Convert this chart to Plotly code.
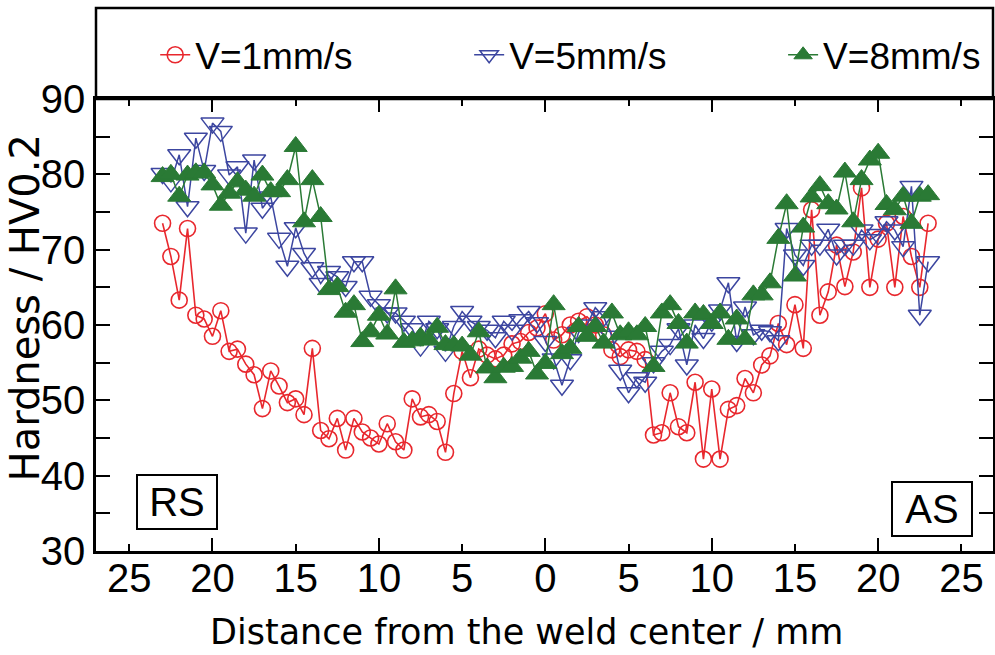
import plotly.graph_objects as go

distance = [-23.0, -22.5, -22.0, -21.5, -21.0, -20.5, -20.0, -19.5, -19.0, -18.5,
            -18.0, -17.5, -17.0, -16.5, -16.0, -15.5, -15.0, -14.5, -14.0, -13.5,
            -13.0, -12.5, -12.0, -11.5, -11.0, -10.5, -10.0, -9.5, -9.0, -8.5,
            -8.0, -7.5, -7.0, -6.5, -6.0, -5.5, -5.0, -4.5, -4.0, -3.5,
            -3.0, -2.5, -2.0, -1.5, -1.0, -0.5, 0.0, 0.5, 1.0, 1.5,
            2.0, 2.5, 3.0, 3.5, 4.0, 4.5, 5.0, 5.5, 6.0, 6.5,
            7.0, 7.5, 8.0, 8.5, 9.0, 9.5, 10.0, 10.5, 11.0, 11.5,
            12.0, 12.5, 13.0, 13.5, 14.0, 14.5, 15.0, 15.5, 16.0, 16.5,
            17.0, 17.5, 18.0, 18.5, 19.0, 19.5, 20.0, 20.5, 21.0, 21.5,
            22.0, 22.5, 23.0]

v1_hardness = [73.5, 69.1, 63.3, 72.8, 61.3, 60.8, 58.5, 61.9, 56.5, 56.8,
               54.8, 53.4, 48.9, 53.9, 51.9, 49.7, 50.2, 48.1, 56.9, 46.0,
               44.9, 47.6, 43.4, 47.6, 45.8, 45.0, 44.2, 46.9, 44.5, 43.4,
               50.2, 47.8, 48.1, 47.2, 43.1, 50.9, 56.5, 53.0, 56.8, 56.0,
               55.5, 56.0, 57.5, 57.8, 59.0, 59.6, 61.5, 58.0, 58.7, 60.0,
               60.5, 61.1, 60.0, 58.7, 56.7, 55.8, 56.7, 56.5, 55.4, 45.4,
               45.7, 51.0, 46.5, 45.7, 52.4, 42.2, 51.5, 42.2, 48.8, 49.3,
               52.9, 51.0, 54.7, 55.9, 60.2, 57.4, 62.7, 56.9, 75.3, 61.3,
               64.4, 70.6, 65.1, 69.7, 78.2, 65.0, 71.4, 73.5, 65.0, 74.4,
               69.1, 65.0, 73.5]

v5_hardness = [80.1, 79.0, 82.6, 75.7, 84.8, 80.5, 86.8, 85.7, 79.9, 81.0,
               72.2, 81.9, 75.5, 77.0, 71.5, 67.8, 72.9, 69.5, 67.6, 65.5,
               67.1, 66.4, 65.1, 68.4, 68.4, 63.8, 62.7, 61.6, 61.6, 60.5,
               59.5, 57.2, 60.5, 59.5, 56.5, 59.8, 61.8, 60.5, 59.8, 59.3,
               58.3, 60.5, 59.3, 60.7, 61.8, 60.3, 57.8, 55.5, 52.0, 55.4,
               59.0, 60.0, 62.3, 61.1, 58.5, 54.0, 51.0, 53.0, 52.4, 55.0,
               56.5, 57.4, 59.5, 54.7, 60.0, 58.2, 60.5, 62.0, 65.6, 57.8,
               62.4, 58.7, 59.3, 59.1, 57.9, 72.8, 69.3, 67.9, 70.6, 70.6,
               72.7, 69.3, 70.6, 70.6, 72.6, 71.3, 72.0, 73.7, 72.6, 70.4,
               78.4, 61.3, 68.4]

v8_hardness = [79.7, 80.0, 77.1, 79.9, 80.2, 80.2, 78.6, 75.9, 77.5, 79.0,
               77.9, 77.1, 79.9, 77.7, 77.7, 79.3, 83.7, 73.7, 79.3, 74.4,
               64.7, 65.1, 61.7, 62.7, 57.8, 59.1, 61.3, 58.8, 64.8, 57.7,
               57.9, 58.4, 58.0, 59.7, 57.4, 57.3, 57.2, 56.0, 59.1, 54.3,
               53.0, 54.4, 54.5, 55.6, 56.5, 53.5, 54.9, 62.7, 56.2, 56.9,
               59.8, 58.5, 59.8, 57.6, 61.6, 58.7, 59.1, 58.7, 59.8, 54.5,
               61.6, 62.7, 60.2, 57.6, 61.6, 61.4, 60.2, 61.6, 58.1, 60.8,
               58.1, 64.0, 64.0, 65.6, 71.5, 76.1, 66.5, 73.0, 77.0, 78.5,
               76.1, 75.4, 80.3, 73.7, 79.3, 81.9, 82.8, 76.0, 75.3, 77.1,
               73.5, 77.1, 77.3]

series_names = ["V=1mm/s", "V=5mm/s", "V=8mm/s"]
x_tick_values = [-25, -20, -15, -10, -5, 0, 5, 10, 15, 20, 25]
x_tick_labels = ["25", "20", "15", "10", "5", "0", "5", "10", "15", "20", "25"]
x_major_ticks = [-20, -10, 0, 10, 20]
y_tick_values = [30, 35, 40, 45, 50, 55, 60, 65, 70, 75, 80, 85, 90]
y_tick_labels = ["30", "", "40", "", "50", "", "60", "", "70", "", "80", "", "90"]

RED = "#e8272d"
BLUE = "#3c46a0"
GREEN = "#2a7a35"
FONT = "Liberation Sans, Arial, sans-serif"
TITLE_FONT = "DejaVu Sans, sans-serif"

fig = go.Figure()
fig.add_trace(go.Scatter(
    x=distance, y=v1_hardness, name=series_names[0], mode="lines+markers", legend="legend",
    line=dict(color=RED, width=1.6),
    marker=dict(symbol="circle-open", size=16, color=RED, line=dict(width=1.6, color=RED)),
))
fig.add_trace(go.Scatter(
    x=distance, y=v5_hardness, name=series_names[1], mode="lines+markers", legend="legend2",
    line=dict(color=BLUE, width=1.5),
    marker=dict(symbol="triangle-down-open", size=20, color=BLUE, line=dict(width=1.5, color=BLUE)),
))
fig.add_trace(go.Scatter(
    x=distance, y=v8_hardness, name=series_names[2], mode="lines+markers", legend="legend3",
    line=dict(color=GREEN, width=1.5),
    marker=dict(symbol="triangle-up", size=20, color=GREEN, line=dict(width=1, color=GREEN)),
))
# empty trace carrying the long major ticks axis
fig.add_trace(go.Scatter(x=[], y=[], xaxis="x2", yaxis="y", showlegend=False, hoverinfo="skip"))

ytop = 452 / 543


def legend_at(xpos):
    return dict(
        orientation="h", x=xpos, y=0.913, xanchor="left", yanchor="middle",
        font=dict(family=FONT, size=37, color="black"),
        bgcolor="rgba(0,0,0,0)", borderwidth=0,
    )


fig.update_layout(
    width=995, height=655,
    margin=dict(l=96, r=2, t=8, b=104, autoexpand=False),
    paper_bgcolor="white", plot_bgcolor="white",
    font=dict(family=FONT, color="black"),
    showlegend=True,
    legend=legend_at(0.066),
    legend2=legend_at(0.416),
    legend3=legend_at(0.766),
    xaxis=dict(
        range=[-27, 26.9], tickmode="array", tickvals=x_tick_values, ticktext=x_tick_labels,
        ticks="inside", ticklen=7, tickwidth=2, tickcolor="black",
        showline=True, linewidth=2.5, linecolor="black", mirror="ticks",
        showgrid=False, zeroline=False, automargin=False, ticklabelstandoff=-10,
        tickfont=dict(family=FONT, size=40, color="black"),
    ),
    xaxis2=dict(
        range=[-27, 26.9], overlaying="x", anchor="y", side="bottom",
        tickmode="array", tickvals=x_major_ticks, showticklabels=False,
        ticks="inside", ticklen=13, tickwidth=2, tickcolor="black",
        showline=True, linewidth=2.5, linecolor="black", mirror="ticks",
        showgrid=False, zeroline=False, automargin=False,
    ),
    yaxis=dict(
        range=[30, 90], domain=[0, ytop], tickmode="array", tickvals=y_tick_values, ticktext=y_tick_labels,
        ticks="inside", ticklen=14, tickwidth=2, tickcolor="black",
        showline=True, linewidth=2.5, linecolor="black", mirror="ticks",
        showgrid=False, zeroline=False, automargin=False,
        tickfont=dict(family=FONT, size=40, color="black"),
    ),
    shapes=[dict(type="rect", xref="paper", yref="paper", x0=0, x1=1, y0=ytop, y1=1,
                 line=dict(color="black", width=2.5), fillcolor="rgba(0,0,0,0)", layer="above")],
    annotations=[
        dict(text="Distance from the weld center / mm", xref="paper", yref="paper",
             x=0.4794, y=-0.149, xanchor="center", yanchor="middle", showarrow=False,
             font=dict(family=TITLE_FONT, size=35, color="black")),
        dict(text="Hardness / HV0.2", xref="paper", yref="paper", textangle=-90,
             x=-0.079, y=0.447, xanchor="center", yanchor="middle", showarrow=False,
             font=dict(family=TITLE_FONT, size=40, color="black")),
        dict(text="RS", xref="paper", yref="paper", x=0.0899, y=0.0902,
             xanchor="center", yanchor="middle", showarrow=False, width=70, height=44,
             bordercolor="black", borderwidth=2, borderpad=4, bgcolor="white",
             font=dict(family=FONT, size=40, color="black")),
        dict(text="AS", xref="paper", yref="paper", x=0.932, y=0.078,
             xanchor="center", yanchor="middle", showarrow=False, width=70, height=44,
             bordercolor="black", borderwidth=2, borderpad=4, bgcolor="white",
             font=dict(family=FONT, size=40, color="black")),
    ],
)

fig.write_html("out.html", config={"displayModeBar": False},
               post_script="document.body.style.margin='0';document.body.style.overflow='hidden';")
